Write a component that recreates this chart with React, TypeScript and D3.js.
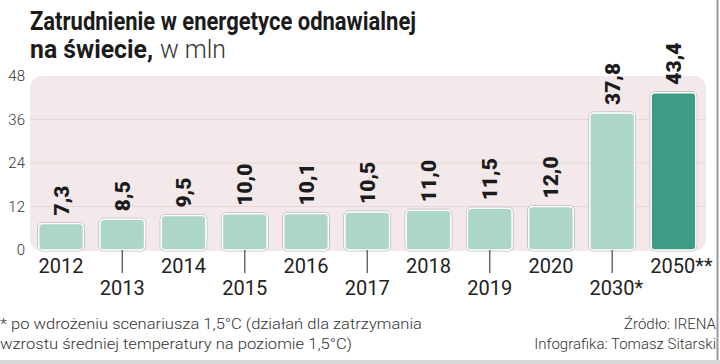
import React from "react";
import * as d3 from "d3";

const categories = ["2012", "2013", "2014", "2015", "2016", "2017", "2018", "2019", "2020", "2030*", "2050**"];
const values = [7.3, 8.5, 9.5, 10.0, 10.1, 10.5, 11.0, 11.5, 12.0, 37.8, 43.4];
const valueLabels = ["7,3", "8,5", "9,5", "10,0", "10,1", "10,5", "11,0", "11,5", "12,0", "37,8", "43,4"];
const yTicks = [0, 12, 24, 36, 48];

const W = 720;
const H = 364;

export default function App() {
  const x = d3.scaleBand<string>().domain(categories).range([29.5, 705]).paddingInner(0.27).paddingOuter(0.15);
  const y = d3.scaleLinear().domain([0, 48]).range([250, 76]);
  const bw = x.bandwidth();
  const font = "Roboto, 'DejaVu Sans', sans-serif";

  return (
    <div style={{ position: "fixed", left: 0, top: 0, width: W, height: H, background: "#fff", overflow: "hidden" }}>
      <svg width={W} height={H} style={{ display: "block" }}>
        <rect width={W} height={H} fill="#fff" />
        {/* borders */}
        <line x1={717.5} x2={717.5} y1={0} y2={H} stroke="#9a9a9a" strokeWidth={2} />
        <rect x={0} y={360} width={W} height={4} fill="#d8d8d8" />

        {/* title */}
        <text x={30} y={30} fontFamily={font} fontWeight={700} fontSize={25} fill="#1b1b1b"
          textLength={386} lengthAdjust="spacingAndGlyphs">Zatrudnienie w energetyce odnawialnej</text>
        <text x={30} y={58} fontFamily={font} fontWeight={700} fontSize={25} fill="#1b1b1b"
          textLength={123} lengthAdjust="spacingAndGlyphs">na świecie,</text>
        <text x={160} y={58} fontFamily={font} fontWeight={300} fontSize={25} fill="#333"
          textLength={66} lengthAdjust="spacingAndGlyphs">w mln</text>

        {/* plot background */}
        <rect x={30} y={y(48)} width={676} height={y(0) - y(48) + 1} rx={12} fill="#f4e9ea" />
        {yTicks.filter((t) => t > 0 && t < 48).map((t) => (
          <line key={t} x1={30} x2={706} y1={y(t)} y2={y(t)} stroke="#e9d5d7" strokeWidth={1} />
        ))}

        {/* y axis labels */}
        {yTicks.map((t) => (
          <text key={t} x={25} y={y(t) + 5} textAnchor="end" fontFamily={font} fontWeight={300}
            fontSize={15} fill="#333">{t}</text>
        ))}

        {/* bars */}
        {values.map((v, i) => {
          const bx = x(categories[i])!;
          const top = y(v);
          return (
            <g key={i}>
              <rect x={bx - 1} y={top - 1} width={bw + 2} height={y(0) - top + 2} rx={5}
                fill="none" stroke="#bdb5b6" strokeWidth={1} />
              <rect x={bx} y={top} width={bw} height={y(0) - top} rx={4}
                fill={i === values.length - 1 ? "#3f9b85" : "#acd6c9"} stroke="#fff" strokeWidth={1.5} />
            </g>
          );
        })}

        {/* value labels */}
        {values.map((v, i) => {
          const cx = x(categories[i])! + bw / 2;
          const by = y(v) - 8;
          return (
            <text key={i} transform={`translate(${cx + 7.5},${by}) rotate(-90)`} fontFamily={font}
              fontWeight={900} fontSize={21} fill="#1b1b1b">{valueLabels[i]}</text>
          );
        })}

        {/* x axis labels & ticks */}
        {categories.map((c, i) => {
          const cx = x(c)! + bw / 2;
          const odd = i % 2 === 1;
          return (
            <g key={c}>
              {odd && <line x1={cx} x2={cx} y1={250} y2={273} stroke="#555" strokeWidth={1.3} />}
              <text x={cx + (c.endsWith("*") ? (c.endsWith("**") ? 8 : 4) : 0)} y={odd ? 295 : 273}
                textAnchor="middle" fontFamily={font} fontWeight={400} fontSize={20} fill="#222">{c}</text>
            </g>
          );
        })}

        {/* footnotes */}
        <text x={0} y={329} fontFamily={font} fontWeight={300} fontSize={15} fill="#333"
          textLength={422} lengthAdjust="spacingAndGlyphs">* po wdrożeniu scenariusza 1,5°C (działań dla zatrzymania</text>
        <text x={0} y={349} fontFamily={font} fontWeight={300} fontSize={15} fill="#333"
          textLength={352} lengthAdjust="spacingAndGlyphs">wzrostu średniej temperatury na poziomie 1,5°C)</text>
        <text x={716} y={329} textAnchor="end" fontFamily={font} fontWeight={300} fontSize={15} fill="#333">Źródło: IRENA</text>
        <text x={716} y={349} textAnchor="end" fontFamily={font} fontWeight={300} fontSize={15} fill="#333">Infografika: Tomasz Sitarski</text>
      </svg>
    </div>
  );
}
